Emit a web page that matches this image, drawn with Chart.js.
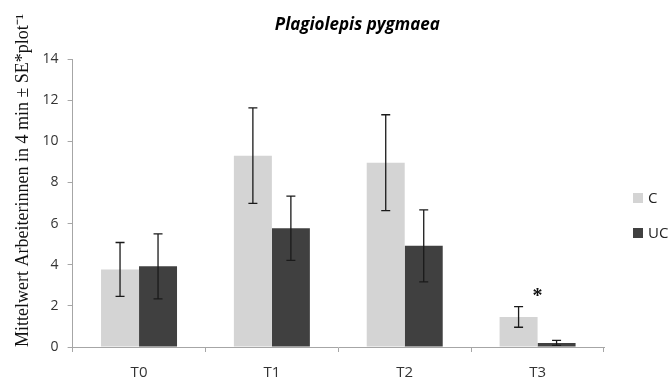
<!DOCTYPE html>
<html>
<head>
<meta charset="utf-8">
<script src="https://cdn.jsdelivr.net/npm/chart.js@4.4.1/dist/chart.umd.min.js"></script>
<style>
  html, body { margin: 0; padding: 0; background: #fff; }
  #wrap { width: 672px; height: 381px; }
</style>
</head>
<body>
<div id="wrap"><canvas id="ant-chart"></canvas></div>
<script>
let categories = ['T0', 'T1', 'T2', 'T3'];
let seriesNames = ['C', 'UC'];
let meanC = [3.77, 9.3, 8.96, 1.46];
let seC = [1.31, 2.32, 2.33, 0.5];
let meanUC = [3.92, 5.77, 4.92, 0.2];
let seUC = [1.58, 1.56, 1.75, 0.12];
let sigMarks = ['', '', '', '*'];
let yTicks = [0, 2, 4, 6, 8, 10, 12, 14];

let chartTitle = 'Plagiolepis pygmaea';
let yAxisTitle = 'Mittelwert Arbeiterinnen in 4 min \u00b1 SE*plot\u207b\u00b9';

// whiskers with caps, drawn from mean +/- SE
let errorBars = {
    id: 'errorBars',
    afterDatasetsDraw: function (chart) {
        let ctx = chart.ctx, y = chart.scales.y;
        ctx.save();
        ctx.strokeStyle = '#1a1a1a';
        ctx.lineWidth = 1.3;
        chart.data.datasets.forEach(function (ds, i) {
            chart.getDatasetMeta(i).data.forEach(function (bar, j) {
                let hi = y.getPixelForValue(ds.data[j] + ds.se[j]),
                    lo = y.getPixelForValue(ds.data[j] - ds.se[j]);
                ctx.beginPath();
                ctx.moveTo(bar.x, hi); ctx.lineTo(bar.x, lo);
                ctx.moveTo(bar.x - 4.5, hi); ctx.lineTo(bar.x + 4.5, hi);
                ctx.moveTo(bar.x - 4.5, lo); ctx.lineTo(bar.x + 4.5, lo);
                ctx.stroke();
            });
        });
        // significance stars over the group
        ctx.fillStyle = '#111';
        ctx.font = 'bold 20px "Liberation Serif"';
        ctx.textAlign = 'center';
        ctx.textBaseline = 'middle';
        sigMarks.forEach(function (m, j) {
            if (!m) return;
            let x = chart.scales.x.getPixelForValue(j),
                top = Math.max(meanC[j] + seC[j], meanUC[j] + seUC[j]);
            ctx.fillText(m, x, y.getPixelForValue(top) - 10);
        });
        ctx.restore();
    }
};

// title and legend placed beside the plot area
let sideText = {
    id: 'sideText',
    afterDraw: function (chart) {
        let ctx = chart.ctx, area = chart.chartArea;
        ctx.save();
        ctx.fillStyle = '#000';
        ctx.font = 'italic bold 17px "Open Sans"';
        ctx.textAlign = 'center';
        ctx.textBaseline = 'middle';
        ctx.fillText(chartTitle, (area.left + area.right) / 2 + 19, 25);

        ctx.font = '15px "Open Sans"';
        ctx.textAlign = 'left';
        chart.data.datasets.forEach(function (ds, i) {
            let ly = 198 + i * 35;
            ctx.fillStyle = ds.backgroundColor;
            ctx.fillRect(area.right + 29, ly - 5, 10, 10);
            ctx.fillStyle = '#222';
            ctx.fillText(ds.label, area.right + 44, ly + 1);
        });
        ctx.restore();
    }
};

window.onload = function () {
    let ctx = document.getElementById('ant-chart').getContext('2d');
    new Chart(ctx, {
        type: 'bar',
        data: {
            labels: categories,
            datasets: [{
                label: seriesNames[0],
                data: meanC,
                se: seC,
                backgroundColor: '#d4d4d4'
            }, {
                label: seriesNames[1],
                data: meanUC,
                se: seUC,
                backgroundColor: '#404040'
            }]
        },
        options: {
            responsive: true,
            maintainAspectRatio: false,
            animation: false,
            datasets: { bar: { categoryPercentage: 0.572, barPercentage: 1 } },
            layout: { padding: { top: 59, right: 68, left: 12, bottom: -13 } },
            plugins: {
                legend: { display: false },
                title: { display: false },
                tooltip: { enabled: false }
            },
            scales: {
                x: {
                    grid: {
                        display: true, offset: true, drawOnChartArea: false,
                        drawTicks: true, tickLength: 5, color: '#a6a6a6'
                    },
                    border: { color: '#a6a6a6' },
                    ticks: { color: '#333', padding: 12, font: { family: 'Open Sans', size: 15 } }
                },
                y: {
                    min: 0,
                    max: 14,
                    afterBuildTicks: function (axis) {
                        axis.ticks = yTicks.map(function (v) { return { value: v }; });
                    },
                    grid: {
                        display: true, drawOnChartArea: false,
                        drawTicks: true, tickLength: 5, color: '#a6a6a6'
                    },
                    border: { color: '#a6a6a6' },
                    ticks: { color: '#333', padding: 9, font: { family: 'Open Sans', size: 14 } },
                    title: {
                        display: true,
                        text: yAxisTitle,
                        align: 'start',
                        color: '#111',
                        font: { family: 'Liberation Serif', size: 18 },
                        padding: { top: 0, bottom: 0 }
                    }
                }
            }
        },
        plugins: [errorBars, sideText]
    });
};
</script>
</body>
</html>
